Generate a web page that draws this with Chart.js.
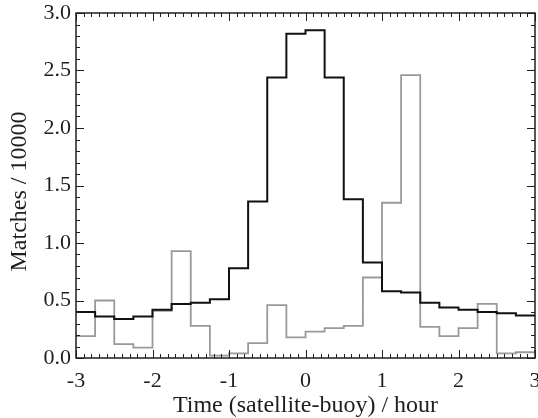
<!DOCTYPE html>
<html>
<head>
<meta charset="utf-8">
<script src="https://cdn.jsdelivr.net/npm/chart.js@4.4.1/dist/chart.umd.min.js"></script>
<style>
  html, body { margin: 0; padding: 0; background: #fff; }
</style>
</head>
<body>
<canvas id="histChart" width="538" height="418"></canvas>
<script>
// bin edges, hours (0.25 h bins)
const binEdges = [-3, -2.75, -2.5, -2.25, -2, -1.75, -1.5, -1.25, -1, -0.75, -0.5, -0.25,
    0, 0.25, 0.5, 0.75, 1, 1.25, 1.5, 1.75, 2, 2.25, 2.5, 2.75, 3];
// matches per bin / 10000
const blackCounts = [0.40, 0.36, 0.34, 0.36, 0.42, 0.47, 0.48, 0.51, 0.78, 1.36, 2.44, 2.82,
    2.85, 2.44, 1.38, 0.83, 0.58, 0.57, 0.48, 0.44, 0.42, 0.40, 0.39, 0.37];
const grayCounts = [0.19, 0.50, 0.12, 0.09, 0.41, 0.93, 0.28, 0.02, 0.04, 0.13, 0.46, 0.18,
    0.23, 0.26, 0.28, 0.70, 1.35, 2.46, 0.27, 0.19, 0.26, 0.47, 0.04, 0.05];
const xTickValues = [-3, -2, -1, 0, 1, 2, 3];
const yTickValues = [0, 0.5, 1, 1.5, 2, 2.5, 3];

const FONT = '"Liberation Serif", "Times New Roman", serif';
const INK = '#1e1e1e';

// one point per left bin edge, plus a closing point at the last edge
function stepPoints(counts) {
    return binEdges.map((x, i) => ({ x: x, y: counts[Math.min(i, counts.length - 1)] }));
}

// IDL-style box with inward major/minor ticks on all four sides
const boxTicks = {
    id: 'boxTicks',
    afterDatasetsDraw(chart) {
        const { ctx, chartArea: a, scales: { x, y } } = chart;
        ctx.save();
        ctx.strokeStyle = INK;
        ctx.lineWidth = 1;
        ctx.beginPath();
        for (let i = -30; i <= 30; i++) {
            const px = Math.round(x.getPixelForValue(i / 10)) + 0.5;
            const len = i % 10 === 0 ? 8 : 4;
            ctx.moveTo(px, a.bottom);
            ctx.lineTo(px, a.bottom - len);
            ctx.moveTo(px, a.top);
            ctx.lineTo(px, a.top + len);
        }
        for (let j = 0; j <= 30; j++) {
            const py = Math.round(y.getPixelForValue(j / 10)) + 0.5;
            const len = j % 5 === 0 ? 8 : 4;
            ctx.moveTo(a.left, py);
            ctx.lineTo(a.left + len, py);
            ctx.moveTo(a.right, py);
            ctx.lineTo(a.right - len, py);
        }
        ctx.stroke();
        ctx.lineWidth = 1.5;
        ctx.strokeRect(a.left, a.top, a.right - a.left, a.bottom - a.top);
        ctx.restore();
    }
};

const chart = new Chart(document.getElementById('histChart'), {
    type: 'line',
    data: {
        datasets: [
            {
                label: 'all',
                data: stepPoints(blackCounts),
                stepped: 'before',
                borderColor: '#111111',
                borderWidth: 2,
                pointRadius: 0,
                fill: false
            },
            {
                label: 'other',
                data: stepPoints(grayCounts),
                stepped: 'before',
                borderColor: '#999999',
                borderWidth: 1.8,
                pointRadius: 0,
                fill: false
            }
        ]
    },
    options: {
        responsive: false,
        animation: false,
        devicePixelRatio: 1,
        layout: { padding: { left: 0, top: 13, right: 3, bottom: 0 } },
        plugins: {
            legend: { display: false },
            tooltip: { enabled: false }
        },
        scales: {
            x: {
                type: 'linear',
                min: -3,
                max: 3,
                afterBuildTicks(scale) {
                    scale.ticks = xTickValues.map(v => ({ value: v }));
                },
                afterFit(scale) {
                    scale.height = 60;
                    scale.paddingLeft = 0;
                    scale.paddingRight = 0;
                },
                grid: { display: false, drawTicks: false },
                border: { display: false },
                ticks: {
                    maxRotation: 0,
                    padding: 10,
                    color: INK,
                    font: { family: FONT, size: 22 },
                    callback: v => String(v)
                },
                title: {
                    display: true,
                    text: 'Time (satellite-buoy) / hour',
                    color: INK,
                    font: { family: FONT, size: 24 },
                    padding: { top: 0, bottom: -2 }
                }
            },
            y: {
                type: 'linear',
                min: 0,
                max: 3,
                afterBuildTicks(scale) {
                    scale.ticks = yTickValues.map(v => ({ value: v }));
                },
                afterFit(scale) {
                    scale.width = 76;
                    scale.paddingTop = 0;
                    scale.paddingBottom = 0;
                },
                grid: { display: false, drawTicks: false },
                border: { display: false },
                ticks: {
                    padding: 5,
                    color: INK,
                    font: { family: FONT, size: 22 },
                    callback: v => v.toFixed(1)
                },
                title: {
                    display: true,
                    // trailing spaces nudge the rotated title a little lower, as in the original
                    text: 'Matches / 10000  ',
                    color: INK,
                    font: { family: FONT, size: 24 },
                    padding: { top: 5, bottom: 0 }
                }
            }
        }
    },
    plugins: [boxTicks]
});
</script>
</body>
</html>
